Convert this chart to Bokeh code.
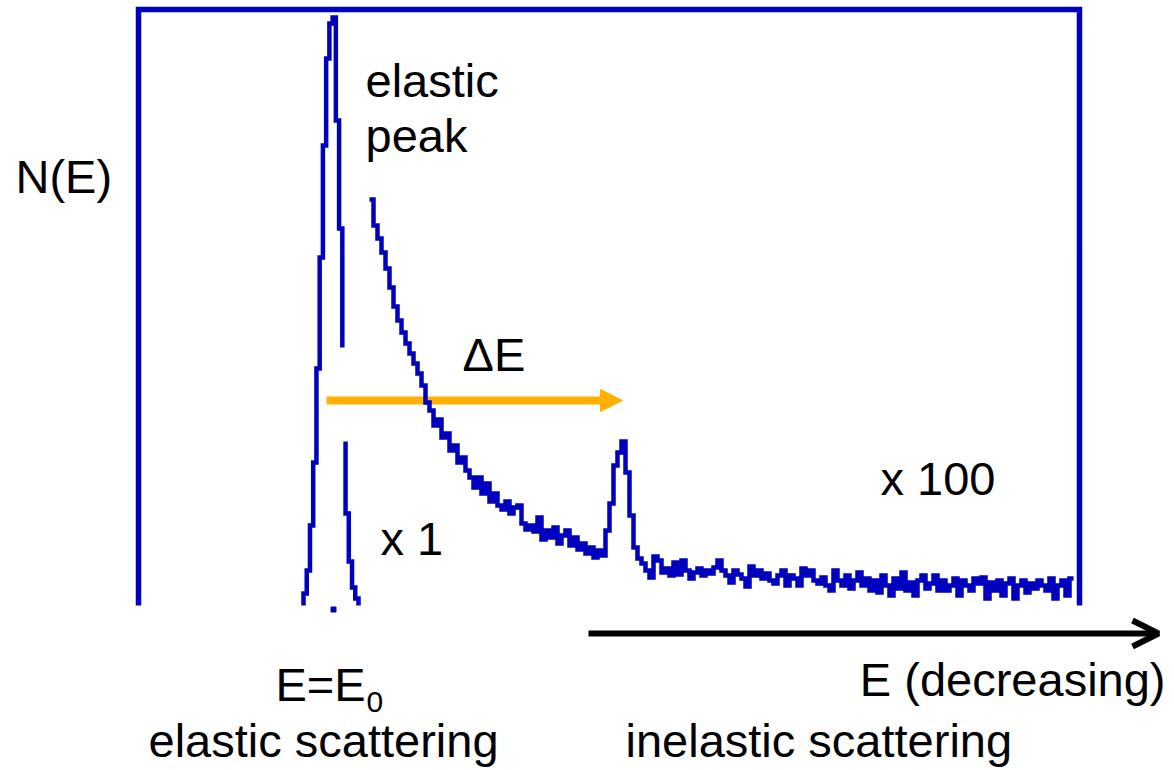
import math
from bokeh.plotting import figure
from bokeh.models import Range1d, Arrow, OpenHead, NormalHead
from bokeh.core.properties import value
from bokeh.embed import file_html
from bokeh.resources import INLINE

# ---------------- data (energy-loss axis in arbitrary units, E0 = 0) ----------------
# elastic peak, x 1 (counts per channel); None = channel hidden behind the break
peak_start = -30.0
peak_bin = 3.235
peak_counts = [12, 35, 80, 143, 237, 348, 460, 547, 582, 588, 485, 377, None, 92, 44, 18, 7]
peak_gap = (258, 164)  # visible ends of the broken vertical around the hidden channel

# inelastic tail, x 100
tail_start = 36.0
tail_bin = 4.0
tail_counts = [
    406, 380, 367, 353, 337, 318, 299, 285, 273, 262,
    252, 242, 232, 220, 203, 195, 180, 186, 168, 172,
    155, 160, 143, 148, 135, 128, 118, 128, 112, 122,
    104, 112, 100, 96, 104, 92, 98, 100, 82, 76,
    80, 74, 88, 66, 75, 68, 78, 62, 70, 75,
    60, 68, 56, 62, 52, 58, 48, 55, 50, 75,
    102, 140, 153, 164, 133, 90, 58, 47, 42, 35,
    28, 49, 45, 33, 37, 30, 43, 31, 45, 35,
    27, 33, 37, 30, 35, 32, 38, 45, 35, 30,
    23, 35, 31, 27, 19, 39, 30, 35, 27, 32,
    25, 22, 30, 35, 20, 30, 27, 20, 37, 30,
    35, 25, 22, 28, 20, 15, 35, 25, 20, 30,
    17, 25, 33, 20, 27, 15, 25, 13, 30, 20,
    10, 27, 17, 33, 15, 23, 10, 25, 30, 17,
    22, 30, 15, 25, 15, 20, 27, 10, 25, 20,
    15, 27, 22, 28, 7, 23, 15, 25, 10, 22,
    27, 7, 20, 25, 13, 22, 17, 25, 20, 15,
    27, 7, 20, 25, 10, 27,
]

# annotation values
frame_left, frame_right, frame_top = -195, 746, 596
delta_e_start, delta_e_end, delta_e_level = -7, 289, 205
axis_arrow_start, axis_arrow_end, axis_arrow_level = 255, 825, -28

BLUE = "#0000BF"
ORANGE = "#FFB000"
FONT = value("Liberation Sans")


def step_vertices(start, width, counts, gap=None, to_baseline=True):
    xs, ys = [], []
    if to_baseline:
        xs.append(start)
        ys.append(0)
    for i, c in enumerate(counts):
        left = start + i * width
        right = left + width
        if c is None:
            xs += [left, math.nan, right]
            ys += [gap[0], math.nan, gap[1]]
        else:
            xs += [left, right]
            ys += [c, c]
    if to_baseline:
        xs.append(start + len(counts) * width)
        ys.append(0)
    return xs, ys


p = figure(width=1174, height=770,
           x_range=Range1d(-333, 841), y_range=Range1d(-165, 605),
           x_axis_type=None, y_axis_type=None,
           output_backend="svg", toolbar_location=None,
           min_border=0, min_border_left=0, min_border_right=0,
           min_border_top=0, min_border_bottom=0)
p.grid.visible = False
p.outline_line_color = None
p.background_fill_color = "white"

# frame (open at the bottom)
p.line([frame_left, frame_left, frame_right, frame_right], [0, frame_top, frame_top, 0],
       line_color=BLUE, line_width=5.5, line_join="miter")

# Delta E arrow (under the spectrum)
p.add_layout(Arrow(x_start=delta_e_start, y_start=delta_e_level,
                   x_end=delta_e_end, y_end=delta_e_level,
                   line_color=ORANGE, line_width=8, level="underlay",
                   end=NormalHead(size=22, fill_color=ORANGE, line_color=ORANGE, line_width=1)))

# spectra
px, py = step_vertices(peak_start, peak_bin, peak_counts, gap=peak_gap)
p.line(px, py, line_color=BLUE, line_width=4.5, line_join="miter")
tx, ty = step_vertices(tail_start, tail_bin, tail_counts, to_baseline=False)
p.line(tx, ty, line_color=BLUE, line_width=4.5, line_join="miter")

# E0 tick
p.scatter([0], [-4], marker="square", size=5, color=BLUE)

# energy axis arrow
p.add_layout(Arrow(x_start=axis_arrow_start, y_start=axis_arrow_level,
                   x_end=axis_arrow_end, y_end=axis_arrow_level,
                   line_color="black", line_width=6,
                   end=OpenHead(size=26, line_color="black", line_width=6)))

# texts
labels = [
    ("N(E)", -318, 429, "left"),
    ("elastic", 32, 525, "left"),
    ("peak", 32, 470, "left"),
    ("\u0394E", 129, 251, "left"),
    ("x 100", 547, 127, "left"),
    ("x 1", 47, 67, "left"),
    ("E=E", -58, -79, "left"),
    ("E (decreasing)", 832, -74, "right"),
    ("elastic scattering", -185, -135, "left"),
    ("inelastic scattering", 292, -135, "left"),
]
for t, x, y, align in labels:
    p.text(x=[x], y=[y], text=[t], text_font=FONT, text_font_size="47px",
           text_color="black", text_align=align, text_baseline="alphabetic")
p.text(x=[33], y=[-96], text=["0"], text_font=FONT, text_font_size="30px",
       text_color="black", text_align="left", text_baseline="alphabetic")

open("out.html", "w").write(file_html(p, INLINE))
